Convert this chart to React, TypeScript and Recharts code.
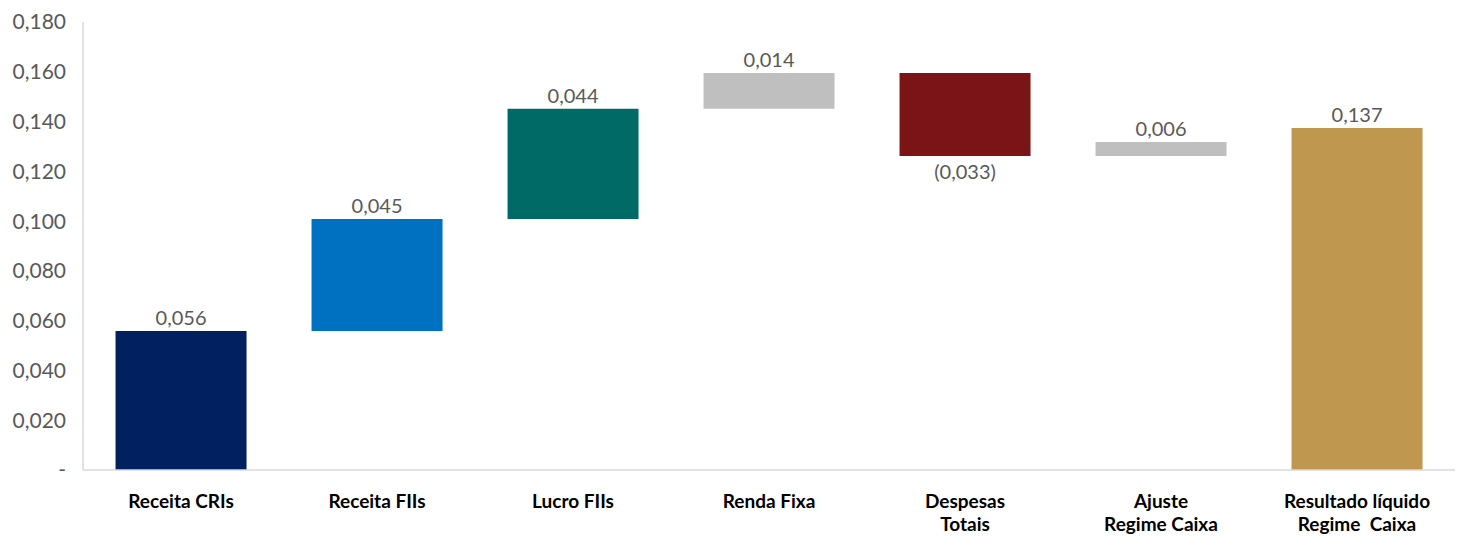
import React from 'react';
import { BarChart, Bar, XAxis, YAxis, Cell, LabelList } from 'recharts';

const categories = [
  ['Receita CRIs'],
  ['Receita FIIs'],
  ['Lucro FIIs'],
  ['Renda Fixa'],
  ['Despesas', 'Totais'],
  ['Ajuste', 'Regime Caixa'],
  ['Resultado líquido', 'Regime  Caixa'],
];
const deltas = [0.0558, 0.045, 0.0443, 0.0144, -0.0333, 0.0056, 0.1374];
const isTotal = [false, false, false, false, false, false, true];
const barColors = ['#002060', '#0070C0', '#006B66', '#BFBFBF', '#7B1416', '#BFBFBF', '#C0974F'];
const yTicks = [0, 0.02, 0.04, 0.06, 0.08, 0.1, 0.12, 0.14, 0.16, 0.18];

const FONT = 'Lato, "Open Sans", sans-serif';

const fmt = (v: number) => {
  const s = Math.abs(v).toFixed(3).replace('.', ',');
  return v < 0 ? `(${s})` : s;
};

let running = 0;
const chartData = deltas.map((d, i) => {
  let base: number;
  if (isTotal[i]) {
    base = 0;
  } else {
    base = d >= 0 ? running : running + d;
    running += d;
  }
  return { name: categories[i].join(' '), base, value: Math.abs(d), delta: d };
});

const XTick = (props: any) => {
  const { x, y, payload, index } = props;
  const lines = categories[index ?? payload.index] || [payload.value];
  return (
    <text x={x} y={y} textAnchor="middle" fontFamily={FONT} fontWeight={700} fontSize={19} fill="#000">
      {lines.map((l: string, i: number) => (
        <tspan key={i} x={x} dy={i === 0 ? 38 : 23} style={{ whiteSpace: 'pre' }}>
          {l}
        </tspan>
      ))}
    </text>
  );
};

const ValueLabel = (props: any) => {
  const { x, y, width, height, index } = props;
  const d = deltas[index];
  const cx = x + width / 2;
  const ty = d < 0 ? y + height + 23 : y - 6;
  return (
    <text x={cx} y={ty} textAnchor="middle" fontFamily={FONT} fontSize={20} fill="#595959">
      {fmt(d)}
    </text>
  );
};

export default function App() {
  return (
    <div style={{ width: 1457, height: 536, background: '#fff' }}>
      <style>{`body{margin:0}`}</style>
      <BarChart
        width={1457}
        height={536}
        data={chartData}
        margin={{ top: 22, right: 2, bottom: 0, left: 0 }}
        barCategoryGap="16.6%"
      >
        <XAxis
          dataKey="name"
          height={66}
          axisLine={{ stroke: '#D9D9D9', strokeWidth: 1.5 }}
          tickLine={false}
          tickSize={0}
          tickMargin={0}
          interval={0}
          tick={<XTick />}
        />
        <YAxis
          domain={[0, 0.18]}
          ticks={yTicks}
          width={83}
          axisLine={{ stroke: '#D9D9D9', strokeWidth: 1.5 }}
          tickLine={false}
          tickSize={0}
          tickMargin={17}
          tickFormatter={(v: number) => (v === 0 ? '-' : v.toFixed(3).replace('.', ','))}
          tick={{ fontFamily: FONT, fontSize: 21, fill: '#595959' }}
        />
        <Bar dataKey="base" stackId="w" fill="transparent" isAnimationActive={false} />
        <Bar dataKey="value" stackId="w" isAnimationActive={false}>
          {chartData.map((_, i) => (
            <Cell key={i} fill={barColors[i]} />
          ))}
          <LabelList dataKey="value" content={<ValueLabel />} />
        </Bar>
      </BarChart>
    </div>
  );
}
